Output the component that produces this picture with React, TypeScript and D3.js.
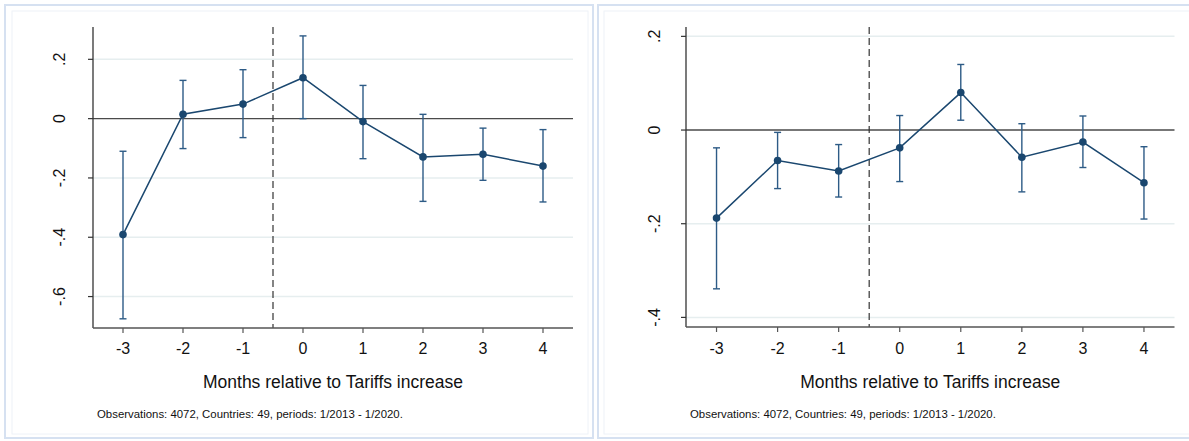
import React from "react";
import * as d3 from "d3";

const months = [-3, -2, -1, 0, 1, 2, 3, 4];

const leftCoef = [-0.391, 0.015, 0.049, 0.138, -0.01, -0.129, -0.12, -0.16];
const leftLo = [-0.675, -0.101, -0.064, 0.0, -0.135, -0.279, -0.208, -0.281];
const leftHi = [-0.11, 0.129, 0.165, 0.279, 0.112, 0.0145, -0.032, -0.037];
const leftYTicks = [-0.6, -0.4, -0.2, 0, 0.2];

const rightCoef = [-0.188, -0.065, -0.0875, -0.038, 0.08, -0.058, -0.0256, -0.1125];
const rightLo = [-0.339, -0.125, -0.143, -0.11, 0.021, -0.132, -0.08, -0.19];
const rightHi = [-0.038, -0.005, -0.031, 0.031, 0.14, 0.0135, 0.03, -0.0356];
const rightYTicks = [-0.4, -0.2, 0, 0.2];

const xTitle = "Months relative to Tariffs increase";
const note = "Observations: 4072, Countries: 49, periods: 1/2013 - 1/2020.";

const NAVY = "#1a476f";
const CI = "#2d5b86";
const GRID = "#e6eeef";
const FONT = "Liberation Sans, Arial, Helvetica, sans-serif";

function fmt(v: number): string {
  if (Math.abs(v) < 1e-9) return "0";
  const s = v.toFixed(1);
  return s.replace(/^(-?)0\./, "$1.");
}

type PanelProps = {
  outer: [number, number, number, number];
  inner: [number, number, number, number];
  xRange: [number, number];
  yRange: [number, number];
  yDomain: [number, number];
  yTicks: number[];
  yLabelX: number;
  coef: number[];
  lo: number[];
  hi: number[];
};

function Panel(p: PanelProps) {
  const x = d3.scaleLinear().domain([-3.5, 4.5]).range(p.xRange);
  const y = d3.scaleLinear().domain(p.yDomain).range(p.yRange);
  const pts = months.map((m, i) => [x(m), y(p.coef[i])] as [number, number]);
  const line = d3.line()(pts) || "";
  const [x0, x1] = p.xRange;
  const yTop = p.yRange[1];
  const yBot = p.yRange[0];
  const cx = (x0 + x1) / 2;
  return (
    <g>
      <rect x={p.outer[0]} y={p.outer[1]} width={p.outer[2]} height={p.outer[3]} fill="#fff" stroke="#d6e1f1" strokeWidth={2} />
      <rect x={p.inner[0]} y={p.inner[1]} width={p.inner[2]} height={p.inner[3]} fill="#fff" stroke="#eef2f8" strokeWidth={1} />
      {p.yTicks.filter((t) => t !== 0).map((t) => (
        <line key={"g" + t} x1={x0} x2={x1} y1={y(t)} y2={y(t)} stroke={GRID} strokeWidth={1.5} />
      ))}
      <line x1={x0} x2={x1} y1={y(0)} y2={y(0)} stroke="#4a4a4a" strokeWidth={1.4} />
      <line x1={x(-0.5)} x2={x(-0.5)} y1={yTop} y2={yBot} stroke="#333" strokeWidth={1.2} strokeDasharray="7,4" />
      <line x1={x0} x2={x0} y1={yTop} y2={yBot} stroke="#333" strokeWidth={1.3} />
      <line x1={x0} x2={x1} y1={yBot} y2={yBot} stroke="#555" strokeWidth={1.3} />
      {p.yTicks.map((t) => (
        <g key={"yt" + t}>
          <line x1={x0 - 5} x2={x0} y1={y(t)} y2={y(t)} stroke="#333" strokeWidth={1.2} />
          <text transform={`translate(${p.yLabelX},${y(t)}) rotate(-90)`} textAnchor="middle" fontSize={16} fontFamily={FONT} fill="#111">
            {fmt(t)}
          </text>
        </g>
      ))}
      {months.map((m) => (
        <g key={"xt" + m}>
          <line x1={x(m)} x2={x(m)} y1={yBot} y2={yBot + 5} stroke="#555" strokeWidth={1.2} />
          <text x={x(m)} y={353.5} textAnchor="middle" fontSize={16} fontFamily={FONT} fill="#111">
            {m}
          </text>
        </g>
      ))}
      {months.map((m, i) => (
        <g key={"ci" + m} stroke={CI} strokeWidth={1.4}>
          <line x1={x(m)} x2={x(m)} y1={y(p.lo[i])} y2={y(p.hi[i])} />
          <line x1={x(m) - 3.5} x2={x(m) + 3.5} y1={y(p.lo[i])} y2={y(p.lo[i])} />
          <line x1={x(m) - 3.5} x2={x(m) + 3.5} y1={y(p.hi[i])} y2={y(p.hi[i])} />
        </g>
      ))}
      <path d={line} fill="none" stroke={NAVY} strokeWidth={1.5} />
      {pts.map((pt, i) => (
        <circle key={"pt" + i} cx={pt[0]} cy={pt[1]} r={3.8} fill={NAVY} />
      ))}
      <text x={cx} y={388} textAnchor="middle" fontSize={17.5} fontFamily={FONT} fill="#111">
        {xTitle}
      </text>
      <text x={x0 + 4} y={418} fontSize={11.4} fontFamily={FONT} fill="#111">
        {note}
      </text>
    </g>
  );
}

export default function App() {
  return (
    <svg width={1189} height={441} style={{ position: "absolute", left: 0, top: 0, background: "#fff" }}>
      <rect x={0} y={0} width={1189} height={441} fill="#fff" />
      <Panel
        outer={[5, 5, 588, 433]}
        inner={[12, 11, 576, 423]}
        xRange={[93, 573]}
        yRange={[328, 27]}
        yDomain={[-0.706, 0.309]}
        yTicks={leftYTicks}
        yLabelX={65}
        coef={leftCoef}
        lo={leftLo}
        hi={leftHi}
      />
      <Panel
        outer={[598, 5, 620, 433]}
        inner={[604, 11, 620, 423]}
        xRange={[686, 1174.5]}
        yRange={[327, 27]}
        yDomain={[-0.4205, 0.22]}
        yTicks={rightYTicks}
        yLabelX={660}
        coef={rightCoef}
        lo={rightLo}
        hi={rightHi}
      />
    </svg>
  );
}
